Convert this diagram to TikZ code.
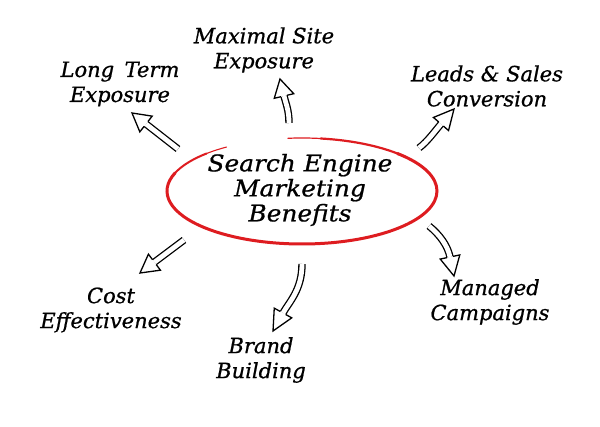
\documentclass[tikz,border=0pt]{standalone}
\usepackage{fontspec}
\usetikzlibrary{calc}
\newfontfamily\hand[FakeBold=0.8]{DejaVu Serif}
\newfontfamily\handwide[FakeBold=0.8,FakeStretch=1.08]{DejaVu Serif}
\definecolor{redink}{RGB}{222,28,32}
\tikzset{
  lbl/.style={font=\hand\fontsize{21}{25}\selectfont\itshape, align=center, inner sep=0pt},
  ttl/.style={font=\handwide\fontsize{23}{25}\selectfont\itshape, align=center, inner sep=0pt},
  shaft/.style={draw=black, line width=1.3pt, double=white, double distance=4.8pt},
  ring/.style={draw=redink, line cap=round},
}
\newcommand\hollowhead[2]{%
  \filldraw[fill=white, draw=black, line width=1.3pt, line join=miter]
    ($(#1)!3.05pt!90:(#2)$) -- ($(#1)!10pt!90:(#2)$) -- (#2)
    -- ($(#1)!10pt!-90:(#2)$) -- ($(#1)!3.05pt!-90:(#2)$);}
\begin{document}
\begin{tikzpicture}[x=1pt,y=-1pt]
\path[use as bounding box, fill=white] (0,0) rectangle (600,427);

% centre
\node[ttl] (c) at (300,190) {Search Engine\\Marketing\\Benefits};
\draw[ring, line width=1.2pt] (302,191) ++(-96:135 and 53) arc[start angle=-96, end angle=-78, x radius=135, y radius=53];
\draw[ring, line width=2.2pt] (302,191) ++(-82:135 and 53) arc[start angle=-82, end angle=-40, x radius=135, y radius=53];
\draw[ring, line width=3pt] (302,191) ++(-45:135 and 53) arc[start angle=-45, end angle=200, x radius=135, y radius=53];
\draw[ring, line width=2pt] (302,191) ++(195:135 and 53) arc[start angle=195, end angle=225, x radius=135, y radius=53];
\draw[ring, line width=1.1pt] (302,191) ++(222:135 and 53) arc[start angle=222, end angle=236, x radius=135, y radius=53];

% labels
\node[lbl] (lt) at (120,84) {Long\enspace Term\\Exposure};
\node[lbl] (ms) at (264,50) {Maximal Site\\Exposure};
\node[lbl] (ls) at (487,86) {Leads \& Sales\\Conversion};
\node[lbl] (mc) at (490,302) {Managed\\Campaigns};
\node[lbl] (bb) at (261,360) {Brand\\Building};
\node[lbl] (ce) at (111,310) {Cost\\Effectiveness};

% arrow 1: long term
\coordinate (s1) at (178,149); \coordinate (b1) at (146,124); \coordinate (t1) at (132,113);
\draw[shaft] (s1) -- (b1); \hollowhead{b1}{t1}
% arrow 2: maximal site
\coordinate (s2) at (289,123); \coordinate (b2) at (284,96); \coordinate (t2) at (280,79);
\draw[shaft] (s2) .. controls (289,110) and (285.6,102.8) .. (b2); \hollowhead{b2}{t2}
% arrow 3: leads & sales
\coordinate (s3) at (419,148); \coordinate (b3) at (441,124); \coordinate (t3) at (454,109);
\draw[shaft] (s3) .. controls (428,141) and (434.5,131.5) .. (b3); \hollowhead{b3}{t3}
% arrow 4: managed
\coordinate (s4) at (429,226); \coordinate (b4) at (450,257); \coordinate (t4) at (454,276);
\draw[shaft] (s4) .. controls (440,235) and (447.6,245.6) .. (b4); \hollowhead{b4}{t4}
% arrow 5: brand
\coordinate (s5) at (302,264); \coordinate (b5) at (283,313); \coordinate (t5) at (273,331);
\draw[shaft] (s5) .. controls (302,290) and (289,302) .. (b5); \hollowhead{b5}{t5}
% arrow 6: cost
\coordinate (s6) at (184,240); \coordinate (b6) at (154.4,262.2); \coordinate (t6) at (140,273);
\draw[shaft] (s6) -- (b6); \hollowhead{b6}{t6}
\end{tikzpicture}
\end{document}
